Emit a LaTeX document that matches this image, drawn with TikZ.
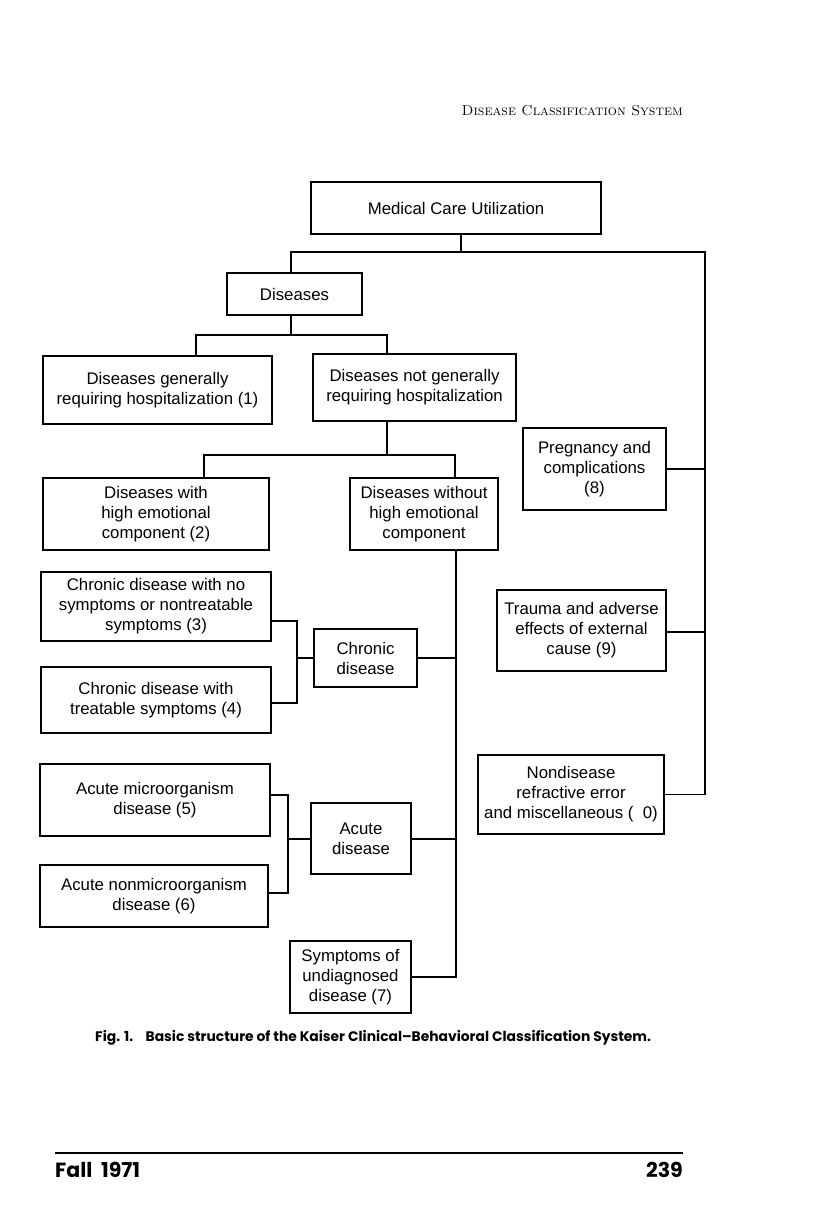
\documentclass[tikz,border=0pt]{standalone}
\usepackage{fontspec}
\newfontfamily\dfont{Liberation Sans}
\newfontfamily\capfont{Poppins}
\begin{document}
\begin{tikzpicture}[x=1pt,y=-1pt,
  box/.style={draw, line width=1.8pt, align=center, inner sep=0pt,
    font=\dfont\fontsize{16.8}{20}\selectfont},
  wire/.style={line width=1.8pt, line join=miter}]
\useasboundingbox (0,0) rectangle (816,1217);
% header
\node[anchor=east, inner sep=0pt, font=\rmfamily\scshape\fontsize{14.4}{17}\selectfont] (hd) at (683,111) {Disease Classification System};
% boxes
\node[box, minimum width=290, minimum height=52] (top) at (456,208) {Medical Care Utilization};
\node[box, minimum width=135, minimum height=42] (dis) at (294.5,294) {Diseases};
\node[box, minimum width=229, minimum height=68] (d1) at (157.5,390) {Diseases generally\\requiring hospitalization (1)};
\node[box, minimum width=203, minimum height=67] (dn) at (414.5,387.5) {Diseases not generally\\requiring hospitalization};
\node[box, minimum width=226, minimum height=72] (d2) at (156,514) {Diseases with\\high emotional\\component (2)};
\node[box, minimum width=148, minimum height=72] (dw) at (424,514) {Diseases without\\high emotional\\component};
\node[box, minimum width=230, minimum height=69] (c3) at (156,606.5) {Chronic disease with no\\symptoms or nontreatable\\symptoms (3)};
\node[box, minimum width=230, minimum height=66] (c4) at (156,700) {Chronic disease with\\treatable symptoms (4)};
\node[box, minimum width=103, minimum height=58] (chr) at (365.5,658) {Chronic\\disease};
\node[box, minimum width=230, minimum height=72] (a5) at (155,800) {Acute microorganism\\disease (5)};
\node[box, minimum width=228, minimum height=62] (a6) at (154,896) {Acute nonmicroorganism\\disease (6)};
\node[box, minimum width=100, minimum height=71] (ac) at (361,838.5) {Acute\\disease};
\node[box, minimum width=121, minimum height=72] (s7) at (350.5,977) {Symptoms of\\undiagnosed\\disease (7)};
\node[box, minimum width=143, minimum height=82] (p8) at (594.5,469) {Pregnancy and\\complications\\(8)};
\node[box, minimum width=169, minimum height=81] (t9) at (581.5,630.5) {Trauma and adverse\\effects of external\\cause (9)};
\node[box, minimum width=186, minimum height=79] (n0) at (571,794.5) {Nondisease\\refractive error\\and miscellaneous (\ \ 0)};
% connectors
\coordinate (ja) at (461,252);
\coordinate (rt) at (705,252);
\draw[wire] ([xshift=5]top.south) -- (ja);
\draw[wire] ([xshift=-3.5]dis.north) |- (rt) |- (n0.east);
\draw[wire] (p8.east) -- (p8.east -| rt);
\draw[wire] ([yshift=-1.5]t9.east) -- ([yshift=-1.5]t9.east -| rt);
\coordinate (jb) at (291,335);
\draw[wire] ([xshift=-3.5]dis.south) -- (jb);
\draw[wire] ([xshift=38.5]d1.north) |- (jb) -| ([xshift=-27.5]dn.north);
\coordinate (jc) at (387,455);
\draw[wire] ([xshift=-27.5]dn.south) -- (jc);
\draw[wire] ([xshift=48]d2.north) |- (jc) -| ([xshift=31]dw.north);
\coordinate (tr) at (456,977);
\draw[wire] ([xshift=32]dw.south) |- (s7.east);
\draw[wire] (chr.east) -- (chr.east -| tr);
\draw[wire] ([yshift=-0.5]ac.east) -- ([yshift=-0.5]ac.east -| tr);
\draw[wire] ([yshift=-14.5]c3.east) -| ([xshift=-16]chr.west) |- ([yshift=-3]c4.east);
\draw[wire] ([xshift=-16]chr.west) -- (chr.west);
\draw[wire] ([yshift=5]a5.east) -| ([xshift=-22]ac.west) |- ([yshift=3]a6.east);
\draw[wire] ([xshift=-22,yshift=-0.5]ac.west) -- ([yshift=-0.5]ac.west);
% caption
\node[anchor=west, inner sep=0pt, font=\capfont\bfseries\fontsize{13.85}{16}\selectfont] (cap) at (95,1038) {Fig. 1.\hspace{0.9em}Basic structure of the Kaiser Clinical–Behavioral Classification System.};
% footer
\draw[line width=2.6pt] (55,1153) -- (683,1153);
\node[anchor=west, inner sep=0pt, font=\capfont\bfseries\fontsize{20.5}{22}\selectfont] (ft) at (55,1170) {Fall\ \ 1971};
\node[anchor=east, inner sep=0pt, font=\capfont\bfseries\fontsize{20.5}{22}\selectfont] (pg) at (683,1170) {239};
\end{tikzpicture}
\end{document}
